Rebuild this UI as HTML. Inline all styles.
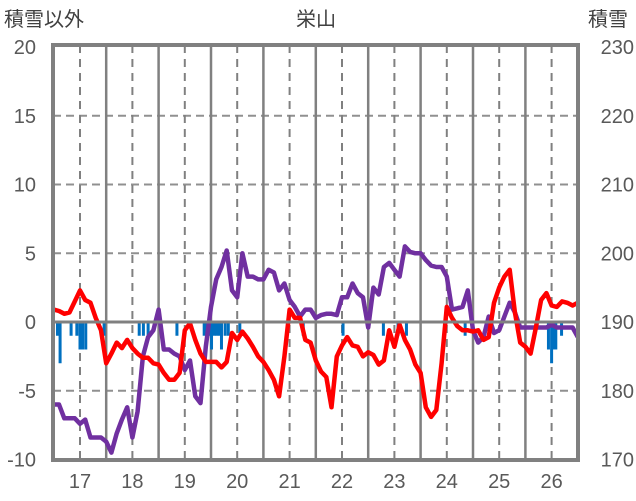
<!DOCTYPE html>
<html><head><meta charset="utf-8"><style>
html,body{margin:0;padding:0;background:#fff;}
svg{display:block;font-family:"Liberation Sans","Noto Sans CJK JP",sans-serif;}
</style></head><body>
<svg id="chart" width="636" height="501" viewBox="0 0 636 501" xmlns="http://www.w3.org/2000/svg">
<text x="4" y="26" font-size="20" fill="#404040">積雪以外</text>
<text x="316" y="26" font-size="20" fill="#404040" text-anchor="middle">栄山</text>
<text x="588" y="26" font-size="20" fill="#404040">積雪</text>
<g id="grid"></g><g id="bars"></g><g id="lines"></g><g id="frame"></g><g id="labels"></g>
</svg>
<script>
const leftTicks=[20,15,10,5,0,-5,-10];
const rightTicks=[230,220,210,200,190,180,170];
const xCats=[17,18,19,20,21,22,23,24,25,26];
const tStart=16.5, tStep=0.1;
const redVals=[0.9,0.8,0.6,0.7,1.5,2.3,1.6,1.4,0.3,-0.6,-3.0,-2.3,-1.5,-1.9,-1.3,-1.9,-2.3,-2.6,-2.6,-3.0,-3.1,-3.7,-4.2,-4.2,-3.7,-0.6,-0.1,-1.3,-2.3,-2.9,-2.9,-2.9,-3.3,-2.9,-0.8,-1.3,-0.7,-1.2,-1.8,-2.5,-2.9,-3.5,-4.2,-5.4,-2.5,0.9,0.3,0.3,-1.3,-1.5,-2.8,-3.6,-4.0,-6.2,-2.5,-1.7,-1.1,-1.7,-1.8,-2.5,-2.2,-2.4,-3.1,-2.8,-0.6,-1.8,-0.2,-1.3,-2.0,-3.1,-3.7,-6.2,-6.9,-6.4,-3.0,1.1,0.3,-0.3,-0.6,-0.6,-0.7,-0.6,-1.3,-1.1,1.4,2.5,3.3,3.8,0.7,-1.5,-1.8,-2.3,-0.4,1.6,2.1,1.2,1.1,1.5,1.4,1.2,1.4];
const snowVals=[178,178,176,176,176,175.2,175.8,173.2,173.2,173.2,172.6,171,173.8,175.8,177.6,173.2,177,185,187.8,188.8,191.8,186,186,185.4,185,183,184.4,179.2,178.2,186.4,192.2,196.2,198,200.4,194.6,193.6,200,196.6,196.6,196.2,196.2,197.6,197.2,194.6,195.6,193.2,192.2,190.8,191.8,191.8,190.6,191,191.2,191.2,191,193.6,193.6,195.6,194.2,193.6,189.2,195,194,198,198.6,197.6,196.6,201,200.2,200,200,199,198.2,198,198,196.6,191.8,192,192.2,194.6,188.8,187,187.8,190.8,188.4,188.8,190.8,192.8,191.4,189.2,189.2,189.2,189.2,189.2,189.2,189.6,189.2,189.2,189.2,189.2,187.8];
const barT=[16.57,16.62,16.83,16.94,17.0,17.05,17.11,17.46,18.13,18.21,18.30,18.85,19.37,19.42,19.47,19.51,19.56,19.61,19.66,19.70,19.77,19.83,20.05,21.26,22.02,22.79,23.07,23.23,24.35,25.94,26.0,26.03,26.08,26.19];
const barVals=[-1,-3,-1,-1,-2,-2,-2,-1,-1,-1,-1,-1,-1,-1,-1,-2,-1,-1,-1,-2,-1,-1,-0.8,-1,-1,-1,-1,-1,-1,-2,-3,-2,-2,-1];
const NS='http://www.w3.org/2000/svg';
const X0=53.8,XW=52.4,Y0=322,YS=13.75;
function xs(t){return X0+(t-16.5)*XW;}
function yl(v){return Y0-v*YS;}
function yr(s){return yl((s-190)/2);}
function mk(tag,attrs,parent){const e=document.createElementNS(NS,tag);for(const k in attrs)e.setAttribute(k,attrs[k]);document.getElementById(parent).appendChild(e);return e;}
[15,10,5,-5].forEach(v=>{const l=mk('line',{x1:53,x2:578,y1:yl(v),y2:yl(v),stroke:'#909090','stroke-width':2,'stroke-dasharray':'8,5'},'grid');

});
for(let i=0;i<xCats.length;i++){const t=xCats[i];
const d=mk('line',{x1:xs(t),x2:xs(t),y1:45,y2:460,stroke:'#808080','stroke-width':2,'stroke-dasharray':'8,6'},'grid');


if(t<26.5){const s=mk('line',{x1:xs(t+0.5),x2:xs(t+0.5),y1:45,y2:460,stroke:'#808080','stroke-width':2.5},'grid');

}}
for(let i=0;i<barT.length;i++){const y0=yl(0),y1=yl(barVals[i]);
const r=mk('rect',{x:xs(barT[i])-1.5,y:Math.min(y0,y1),width:3,height:Math.abs(y1-y0),fill:'#0070C0'},'bars');

}
const z=mk('line',{x1:53,x2:578,y1:yl(0),y2:yl(0),stroke:'#808080','stroke-width':3},'frame');


const snowPts=snowVals.map((s,i)=>xs(tStart+i*tStep).toFixed(1)+','+yr(s).toFixed(1)).join(' ');
const redPts=redVals.map((v,i)=>xs(tStart+i*tStep).toFixed(1)+','+yl(v).toFixed(1)).join(' ');
const p1=mk('polyline',{points:snowPts,fill:'none',stroke:'#7030A0','stroke-width':4.5,'stroke-linejoin':'round'},'lines');


const p2=mk('polyline',{points:redPts,fill:'none',stroke:'#FF0000','stroke-width':4.5,'stroke-linejoin':'round'},'lines');


const f=mk('rect',{x:53,y:45,width:525,height:415,fill:'none',stroke:'#808080','stroke-width':4},'frame');


leftTicks.forEach(v=>{const t=mk('text',{x:36,y:yl(v)+7,'font-size':20,fill:'#595959','text-anchor':'end'},'labels');t.textContent=v;

});
rightTicks.forEach(s=>{const t=mk('text',{x:634,y:yr(s)+7,'font-size':20,fill:'#595959','text-anchor':'end'},'labels');t.textContent=s;

});
xCats.forEach(c=>{const t=mk('text',{x:xs(c),y:488,'font-size':20,fill:'#595959','text-anchor':'middle'},'labels');t.textContent=c;

});
</script>
</body></html>
